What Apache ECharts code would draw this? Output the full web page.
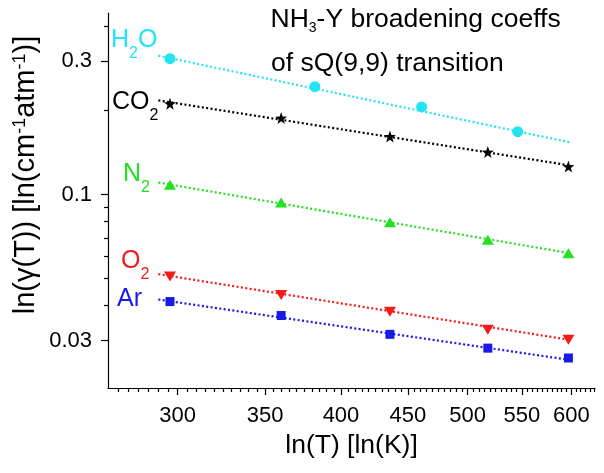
<!DOCTYPE html>
<html><head><meta charset="utf-8">
<script src="https://cdn.jsdelivr.net/npm/echarts@6/dist/echarts.min.js"></script>
<style>html,body{margin:0;padding:0;background:#fff}#c{width:604px;height:473px}</style>
</head><body><div id="c"></div>
<script>
// ---- tick labels / axis ranges ----
const xTickValues = [300, 350, 400, 450, 500, 550, 600];
const yTickValues = [0.03, 0.1, 0.3];
const yMinorTickValues = [0.04, 0.05, 0.06, 0.07, 0.08, 0.09, 0.2, 0.4];
const xRange = [265.4, 625.6];
const yRange = [0.0203, 0.447];

// ---- measured data (T in K, gamma in cm-1 atm-1) ----
const tempsH2O = [296, 382, 461, 546];
const gammaH2O = [0.3067, 0.2435, 0.206, 0.168];
const temps = [296, 360, 436, 518, 597];
const gammaCO2 = [0.2116, 0.188, 0.1616, 0.142, 0.126];
const gammaN2 = [0.1084, 0.0937, 0.0797, 0.0689, 0.0617];
const gammaO2 = [0.0509, 0.0437, 0.0381, 0.0328, 0.0302];
const gammaAr = [0.0414, 0.0369, 0.0316, 0.0282, 0.026];

// ---- fitted power-law lines (endpoints) ----
const fitT = [290, 598];
const fitH2O = [0.3144, 0.154];
const fitCO2 = [0.2175, 0.1273];
const fitN2 = [0.1105, 0.0617];
const fitO2 = [0.0519, 0.0302];
const fitAr = [0.0421, 0.0256];

const xMinorTickValues = [];
for (let t = 270; t <= 625; t += 5) if (xTickValues.indexOf(t) < 0) xMinorTickValues.push(t);

const FONT = '"Liberation Sans", Arial, Helvetica, sans-serif';
const C = { h2o: '#22e4f2', co2: '#000000', n2: '#22e022', o2: '#f21a1a', ar: '#1a1ae6' };
const STAR = 'path://M0,-10L2.35,-3.24L9.51,-3.09L3.8,1.24L5.88,8.09L0,4L-5.88,8.09L-3.8,1.24L-9.51,-3.09L-2.35,-3.24Z';

function pts(ts, gs) { return ts.map((t, i) => [Math.log(t), Math.log(gs[i])]); }

function fitLine(vals, color) {
  return { type: 'line', data: pts(fitT, vals), showSymbol: false, symbol: 'none', silent: true,
    lineStyle: { color: color, width: 2.2, type: [2, 2.4] }, z: 2 };
}
function marks(ts, vals, color, symbol, size, rot) {
  return { type: 'scatter', data: pts(ts, vals), symbol: symbol, symbolSize: size, symbolRotate: rot || 0,
    itemStyle: { color: color, opacity: 1 }, z: 3 };
}

const axisLineStyle = { color: '#000', width: 1.2 };
const lbl = { fontSize: 22, color: '#000', fontFamily: FONT };

const option = {
  animation: false,
  backgroundColor: '#fff',
  grid: { left: 108, right: 9, top: 13, bottom: 85 },
  xAxis: [
    { type: 'value', min: Math.log(xRange[0]), max: Math.log(xRange[1]), position: 'bottom',
      axisLine: { show: true, onZero: false, lineStyle: axisLineStyle },
      axisTick: { show: true, length: 7, customValues: xTickValues.map(Math.log), lineStyle: axisLineStyle },
      axisLabel: Object.assign({ show: true, margin: 17, customValues: xTickValues.map(Math.log),
        formatter: v => String(Math.round(Math.exp(v))) }, lbl),
      splitLine: { show: false },
      name: 'ln(T) [ln(K)]', nameLocation: 'middle', nameGap: 37,
      nameTextStyle: { fontSize: 26.5, color: '#000', fontFamily: FONT } },
    { type: 'value', min: Math.log(xRange[0]), max: Math.log(xRange[1]), position: 'bottom',
      axisLine: { show: false, onZero: false },
      axisTick: { show: true, length: 4, customValues: xMinorTickValues.map(Math.log), lineStyle: axisLineStyle },
      axisLabel: { show: false }, splitLine: { show: false } }
  ],
  yAxis: [
    { type: 'value', min: Math.log(yRange[0]), max: Math.log(yRange[1]), position: 'left',
      axisLine: { show: true, onZero: false, lineStyle: axisLineStyle },
      axisTick: { show: true, length: 7, customValues: yTickValues.map(Math.log), lineStyle: axisLineStyle },
      axisLabel: Object.assign({ show: true, margin: 16, customValues: yTickValues.map(Math.log),
        formatter: v => String(+Math.exp(v).toPrecision(3)) }, lbl),
      splitLine: { show: false } },
    { type: 'value', min: Math.log(yRange[0]), max: Math.log(yRange[1]), position: 'left',
      axisLine: { show: false, onZero: false },
      axisTick: { show: true, length: 4, customValues: yMinorTickValues.map(Math.log), lineStyle: axisLineStyle },
      axisLabel: { show: false }, splitLine: { show: false } }
  ],
  series: [
    fitLine(fitH2O, C.h2o), fitLine(fitCO2, C.co2), fitLine(fitN2, C.n2), fitLine(fitO2, C.o2), fitLine(fitAr, C.ar),
    marks(tempsH2O, gammaH2O, C.h2o, 'circle', 11),
    marks(temps, gammaCO2, C.co2, STAR, 12),
    marks(temps, gammaN2, C.n2, 'triangle', [12, 10]),
    marks(temps, gammaO2, C.o2, 'triangle', [12, 10], 180),
    marks(temps, gammaAr, C.ar, 'rect', 9)
  ],
  graphic: []
};

function chemLabel(main1, sub, main2, color, x, y) {
  return { type: 'text', x: x, y: y, z: 10, silent: true,
    style: { text: '{m|' + main1 + '}{s|' + sub + '}' + (main2 ? '{m|' + main2 + '}' : ''),
      verticalAlign: 'top', align: 'left',
      rich: { m: { fontSize: 25, fontFamily: FONT, fill: color, color: color, verticalAlign: 'top' },
              s: { fontSize: 16, fontFamily: FONT, fill: color, color: color, verticalAlign: 'top', padding: [18, 0, 0, 0] } } } };
}

option.graphic = [
  chemLabel('H', '2', 'O', C.h2o, 111, 28),
  chemLabel('CO', '2', '', C.co2, 112, 89.5),
  chemLabel('N', '2', '', C.n2, 123, 162),
  chemLabel('O', '2', '', C.o2, 121, 249),
  { type: 'text', x: 117, y: 287, z: 10, silent: true,
    style: { text: 'Ar', fontSize: 25, fontFamily: FONT, fill: C.ar, verticalAlign: 'top', align: 'left' } },
  { type: 'text', x: 270.5, y: 6, z: 10, silent: true,
    style: { text: '{m|NH}{s|3}{m|-Y broadening coeffs}', verticalAlign: 'top', align: 'left',
      rich: { m: { fontSize: 26.5, fontFamily: FONT, fill: '#000', verticalAlign: 'top' },
              s: { fontSize: 14, fontFamily: FONT, fill: '#000', verticalAlign: 'top', padding: [15.5, 0, 0, 0] } } } },
  { type: 'text', x: 271, y: 50, z: 10, silent: true,
    style: { text: 'of sQ(9,9) transition', fontSize: 26.5, fontFamily: FONT, fill: '#000', verticalAlign: 'top', align: 'left' } },
  { type: 'text', x: 26, y: 175, rotation: Math.PI / 2, z: 10, silent: true,
    style: { text: '{m|ln(γ(T)) [ln(cm}{p|-1}{m|atm}{p|-1}{m|)]}', align: 'center', verticalAlign: 'middle',
      rich: { m: { fontSize: 29, fontFamily: FONT, fill: '#000', verticalAlign: 'top' },
              p: { fontSize: 18, fontFamily: FONT, fill: '#000', verticalAlign: 'top' } } } }
];

const chart = echarts.init(document.getElementById('c'), null, { renderer: 'canvas' });
chart.setOption(option);
</script>
</body></html>
